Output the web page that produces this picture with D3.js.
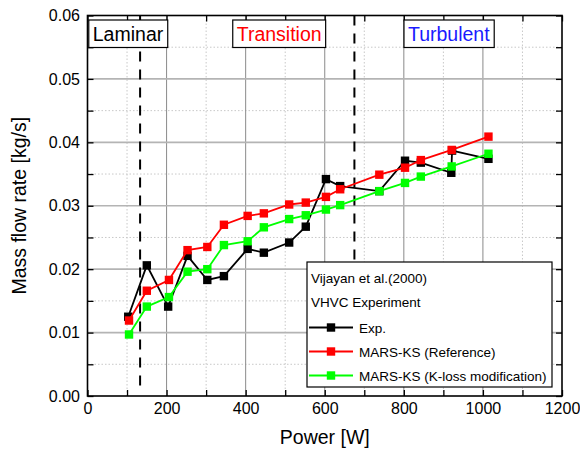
<!DOCTYPE html>
<html><head><meta charset="utf-8">
<script src="https://cdn.jsdelivr.net/npm/d3@7"></script>
<style>body{margin:0;background:#fff}svg{display:block;font-family:"Liberation Sans",Arial,sans-serif}</style>
</head><body><svg id="c" width="580" height="455"></svg>
<script>
const expPower = [103,150,204,253,303,345,405,446,510,552,603,639,738,803,843,920,922,1014];
const expFlow  = [0.0125,0.0206,0.0141,0.0221,0.0183,0.0189,0.0232,0.0226,0.0242,0.0267,0.0342,0.0331,0.0323,0.0371,0.0368,0.0352,0.0387,0.0374];
const refPower = [105,150,206,253,303,345,405,446,510,552,603,639,738,803,843,921,1014];
const refFlow  = [0.0119,0.0166,0.0183,0.0230,0.0235,0.0270,0.0284,0.0288,0.0302,0.0305,0.0314,0.0326,0.0349,0.0360,0.0372,0.0388,0.0409];
const kPower   = [105,150,206,253,303,345,405,446,510,552,603,639,738,803,843,921,1014];
const kFlow    = [0.0097,0.0141,0.0156,0.0196,0.0200,0.0238,0.0244,0.0266,0.0279,0.0285,0.0294,0.0301,0.0323,0.0336,0.0346,0.0362,0.0382];
const xTicks = [0,200,400,600,800,1000,1200];
const yTicks = [0,0.01,0.02,0.03,0.04,0.05,0.06];
const regimeBounds = [133,675];
const regimeLabels = ["Laminar","Transition","Turbulent"];
const seriesNames = ["Exp.","MARS-KS (Reference)","MARS-KS (K-loss modification)"];
const legendTitle = ["Vijayan et al.(2000)","VHVC Experiment"];

const svg = d3.select("#c");
const X0=87.5, X1=562, Y0=396, Y1=15.5;
const x = d3.scaleLinear().domain([0,1200]).range([X0,X1]);
const y = d3.scaleLinear().domain([0,0.06]).range([Y0,Y1]);

// minor grid
const g = svg.append("g");
d3.range(100,1200,200).forEach(v=>g.append("line").attr("x1",x(v)).attr("x2",x(v)).attr("y1",Y0).attr("y2",Y1).attr("stroke","#c8c8c8").attr("stroke-dasharray","1.5,2"));
d3.range(0.005,0.06,0.01).forEach(v=>g.append("line").attr("x1",X0).attr("x2",X1).attr("y1",y(v)).attr("y2",y(v)).attr("stroke","#c8c8c8").attr("stroke-dasharray","1.5,2"));
// major grid
xTicks.slice(1,-1).forEach(v=>g.append("line").attr("x1",x(v)).attr("x2",x(v)).attr("y1",Y0).attr("y2",Y1).attr("stroke","#8a8a8a").attr("stroke-width",1));
yTicks.slice(1,-1).forEach(v=>g.append("line").attr("x1",X0).attr("x2",X1).attr("y1",y(v)).attr("y2",y(v)).attr("stroke","#b4b4b4").attr("stroke-width",1.6));

// axes
const fmt = d3.format(".2f");
const yMinor = d3.range(0,13).map(i=>+(i*0.005).toFixed(3));
const xb = d3.axisBottom(x).tickValues(d3.range(0,1201,100)).tickSize(-6).tickFormat(d=>xTicks.includes(d)?d:"").tickPadding(7);
const yl = d3.axisLeft(y).tickValues(yMinor).tickSize(-6).tickFormat(d=>yTicks.some(t=>Math.abs(t-d)<1e-9)?fmt(d):"").tickPadding(7.5);
const xt = d3.axisTop(x).tickValues(d3.range(0,1201,100)).tickSize(-6).tickFormat("");
const yr = d3.axisRight(y).tickValues(yMinor).tickSize(-6).tickFormat("");
function style(sel){sel.select(".domain").remove();sel.selectAll("line").attr("stroke","#000").attr("stroke-width",1.3);sel.selectAll("text").attr("font-size",16).attr("fill","#000").attr("font-family","Liberation Sans, Arial, sans-serif");}
svg.append("g").attr("transform",`translate(0,${Y0})`).call(xb).call(style);
svg.append("g").attr("transform",`translate(${X0},0)`).call(yl).call(style);
svg.append("g").attr("transform",`translate(0,${Y1})`).call(xt).call(style);
svg.append("g").attr("transform",`translate(${X1},0)`).call(yr).call(style);
svg.append("rect").attr("x",X0).attr("y",Y1).attr("width",X1-X0).attr("height",Y0-Y1).attr("fill","none").attr("stroke","#000").attr("stroke-width",1.6);

// regime dashed lines
regimeBounds.forEach(v=>svg.append("line").attr("x1",x(v)).attr("x2",x(v)).attr("y1",Y1).attr("y2",y(0.0014)).attr("stroke","#000").attr("stroke-width",2).attr("stroke-dasharray","10,8"));

// regime label boxes
const regimeCenters=[128, 279.2, 448.8];
const regimeColors=["#000","#ff0000","#1a1aff"];
regimeLabels.forEach((t,i)=>{
  const grp = svg.append("g");
  const r = grp.append("rect");
  const tx = grp.append("text").attr("x",regimeCenters[i]).attr("y",41).attr("text-anchor","middle").attr("font-size",19.5).attr("fill",regimeColors[i]).text(t);
  const bb = tx.node().getBBox();
  r.attr("x",bb.x-4).attr("y",20).attr("width",bb.width+8).attr("height",27.5).attr("fill","#fff").attr("stroke","#000").attr("stroke-width",1.2);
});

// series
const series=[{px:expPower,py:expFlow,c:"#000000"},{px:refPower,py:refFlow,c:"#ff0000"},{px:kPower,py:kFlow,c:"#00ff00"}];
const line=d3.line();
series.forEach(s=>{
  const pts=s.px.map((p,i)=>[x(p),y(s.py[i])]);
  svg.append("path").attr("d",line(pts)).attr("fill","none").attr("stroke",s.c).attr("stroke-width",1.8);
  svg.append("g").selectAll("rect").data(pts).join("rect").attr("x",d=>d[0]-4.2).attr("y",d=>d[1]-4.2).attr("width",8.4).attr("height",8.4).attr("fill",s.c);
});

// legend
const L=svg.append("g");
L.append("rect").attr("x",307).attr("y",262).attr("width",245).attr("height",125).attr("fill","#fff").attr("stroke","#000").attr("stroke-width",1.2);
legendTitle.forEach((t,i)=>L.append("text").attr("x",311).attr("y",283+i*24.3).attr("font-size",13.5).text(t));
seriesNames.forEach((t,i)=>{
  const yy=327.5+i*24;
  L.append("line").attr("x1",309).attr("x2",353).attr("y1",yy).attr("y2",yy).attr("stroke",series[i].c).attr("stroke-width",1.8);
  L.append("rect").attr("x",331-4.2).attr("y",yy-4.2).attr("width",8.4).attr("height",8.4).attr("fill",series[i].c);
  L.append("text").attr("x",359).attr("y",yy+5).attr("font-size",13.5).text(t);
});

// axis titles
svg.append("text").attr("x",(X0+X1)/2).attr("y",444).attr("text-anchor","middle").attr("font-size",19.5).text("Power [W]");
svg.append("text").attr("transform",`translate(26,${(Y0+Y1)/2}) rotate(-90)`).attr("text-anchor","middle").attr("font-size",19.5).text("Mass flow rate [kg/s]");
</script></body></html>
